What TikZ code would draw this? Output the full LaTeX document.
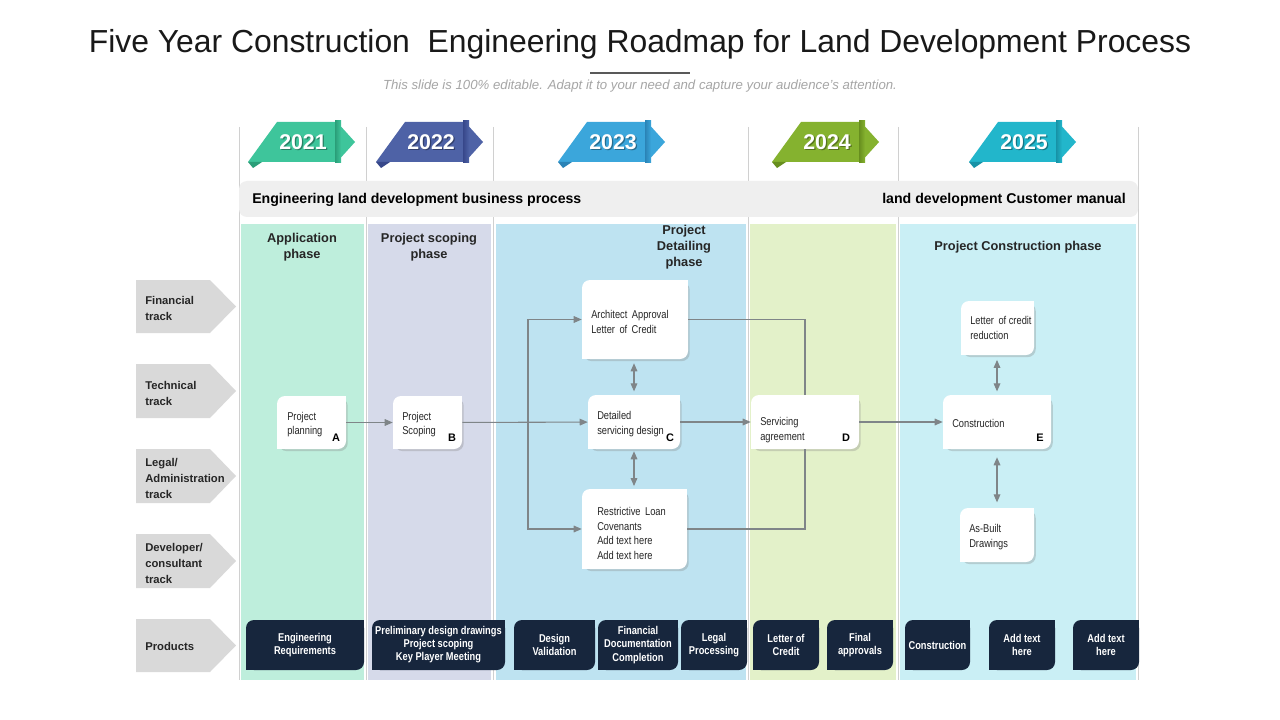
\documentclass[tikz,border=0pt]{standalone}
\usepackage{fontspec}
\setmainfont{Liberation Sans}
\newfontfamily\narrowfont[FakeStretch=0.82]{Liberation Sans}
\usetikzlibrary{arrows.meta,shadows,calc}
\pgfdeclarelayer{back}
\pgfdeclarelayer{mid}
\pgfsetlayers{back,mid,main}
\definecolor{txt}{HTML}{262626}
\definecolor{vl}{HTML}{D0D0D0}
\definecolor{hdrfill}{HTML}{EFEFEF}
\definecolor{colA}{HTML}{BEEEDC}
\definecolor{colB}{HTML}{D6DAEA}
\definecolor{colC}{HTML}{BEE3F1}
\definecolor{colD}{HTML}{E3F1C9}
\definecolor{colE}{HTML}{CAEFF5}
\definecolor{navy}{HTML}{17263D}
\definecolor{trk}{HTML}{D9D9D9}
\definecolor{agray}{HTML}{7F8588}
\definecolor{yA}{HTML}{3EC59B}\definecolor{yAd}{HTML}{2A9E78}
\definecolor{yB}{HTML}{4E62A6}\definecolor{yBd}{HTML}{37478A}
\definecolor{yC}{HTML}{3BA6DB}\definecolor{yCd}{HTML}{2A83B6}
\definecolor{yD}{HTML}{85B22F}\definecolor{yDd}{HTML}{678E1E}
\definecolor{yE}{HTML}{22B6CB}\definecolor{yEd}{HTML}{1792A6}
\newcommand\yearbanner[4]{%
  \fill[#2] (#1-26,122) -- (#1+33,122) -- (#1+33,162) -- (#1-55,162) -- cycle;
  \fill[#2] (#1+33,121) -- (#1+52,142) -- (#1+33,163) -- cycle;
  \shade[left color=#3, right color=#2] (#1+32,121) rectangle (#1+38,163);
  \fill[#3] (#1-55,162) -- (#1-41,162) -- (#1-50,168) -- cycle;
  \node[yrshadow] (ys#4) at (#1+1.3,143.3) {#4};
  \node[yrtxt] (yr#4) at (#1,142) {#4};
}
\newcommand\trackarrow[2]{% #1 top, #2 bottom
  \fill[trk] (136,#1) -- (210,#1) -- (236,{(#1+#2)/2}) -- (210,#2) -- (136,#2) -- cycle;
}
\begin{document}
\begin{tikzpicture}[x=0.75pt,y=-0.75pt,
  sz/.style 2 args={minimum width=#1*0.75pt, minimum height=#2*0.75pt},
  wbox/.style={fill=white, rounded corners=6pt, inner sep=0pt,
    drop shadow={shadow xshift=1.3pt, shadow yshift=-1.6pt, opacity=0.3}},
  btxt/.style={inner sep=0pt, align=left, text=txt, anchor=west,
    font=\narrowfont\fontsize{8.5}{10.8}\selectfont},
  lbl/.style={inner sep=0pt, text=black, font=\bfseries\fontsize{8.2}{9}\selectfont},
  prod/.style={fill=navy, rounded corners=6pt, inner sep=0pt, text=white, align=center,
    font=\narrowfont\bfseries\fontsize{8.5}{9.8}\selectfont},
  phase/.style={inner sep=0pt, align=center, text=txt, font=\bfseries\fontsize{9.6}{12}\selectfont},
  hdrtxt/.style={inner sep=0pt, text=black, font=\bfseries\fontsize{10.6}{12}\selectfont},
  trktxt/.style={inner sep=0pt, align=left, anchor=west, text=txt, font=\bfseries\fontsize{8.45}{12}\selectfont},
  yrtxt/.style={inner sep=0pt, text=white, font=\bfseries\fontsize{16}{18}\selectfont},
  yrshadow/.style={inner sep=0pt, text=black, opacity=0.35, font=\bfseries\fontsize{16}{18}\selectfont},
  conn/.style={draw=agray, line width=0.8pt},
  tip/.style={-{Triangle[length=6pt,width=5pt]}},
  dtip/.style={{Triangle[length=6pt,width=5pt]}-{Triangle[length=6pt,width=5pt]}},
]
\useasboundingbox (0,0) rectangle (1280,720);
\begin{pgfonlayer}{back}
\fill[white] (0,0) rectangle (1280,720);
% vertical lines
\foreach \x in {239,366,493,748,898,1138} \draw[vl, line width=0.7pt] (\x,127) -- (\x,680);
% column fills
\fill[colA] (241,224) rectangle (364,680);
\fill[colB] (368,224) rectangle (491,680);
\fill[colC] (496,224) rectangle (746,680);
\fill[colD] (750,224) rectangle (896,680);
\fill[colE] (900,224) rectangle (1136,680);
\end{pgfonlayer}

% title
\node[inner sep=0pt, text=black!90, font=\fontsize{23.9}{28}\selectfont] (title) at (640,44)
  {Five Year Construction \ Engineering Roadmap for Land Development Process};
\draw[black!65, line width=0.8pt] (590,73) -- (690,73);
\node[inner sep=0pt, text=black!35, font=\itshape\fontsize{9.9}{12}\selectfont] (subtitle) at (640,86.5)
  {This slide is 100\% editable. Adapt it to your need and capture your audience’s attention.};

% header bar
\node[fill=hdrfill, rounded corners=6pt, sz={899}{36}] (hdr) at (688.5,199) {};
\node[hdrtxt, anchor=west] (h1) at (252,199.5) {Engineering land development business process};
\node[hdrtxt, anchor=east] (h2) at (1126,199.5) {land development Customer manual};

% year banners
\yearbanner{303}{yA}{yAd}{2021}
\yearbanner{431}{yB}{yBd}{2022}
\yearbanner{613}{yC}{yCd}{2023}
\yearbanner{827}{yD}{yDd}{2024}
\yearbanner{1024}{yE}{yEd}{2025}

% track labels
\trackarrow{280}{333}
\trackarrow{364}{418}
\trackarrow{449}{503}
\trackarrow{534}{588}
\trackarrow{619}{672}
\node[trktxt] (t1t) at (145,308) {Financial\\track};
\node[trktxt] (t2t) at (145,393) {Technical\\track};
\node[trktxt] (t3t) at (145,478) {Legal/\\Administration\\track};
\node[trktxt] (t4t) at (145,563) {Developer/\\consultant\\track};
\node[trktxt] (t5t) at (145,646) {Products};

% phase titles
\node[phase] (p1) at (302,247) {Application\\phase};
\node[phase] (p2) at (429,247) {Project scoping\\phase};
\node[phase] (p3) at (684,247) {Project\\Detailing\\phase};
\node[phase] (p5) at (1018,247) {Project Construction phase};

% white boxes
\node[wbox, sz={69}{53}] (A) at (311.5,422.5) {};
\node[wbox, sz={69}{53}] (B) at (427.5,422.5) {};
\node[wbox, sz={106}{79}] (Arch) at (635,319.5) {};
\node[wbox, sz={92}{54}] (C) at (634,422) {};
\node[wbox, sz={105}{80}] (R) at (634.5,529) {};
\node[wbox, sz={108}{54}] (D) at (805,422) {};
\node[wbox, sz={73}{54}] (LC) at (997.5,328) {};
\node[wbox, sz={108}{54}] (E) at (997,422) {};
\node[wbox, sz={74}{54}] (AB) at (997,535) {};
\foreach \n in {A,B,Arch,C,R,D,LC,E,AB} {
  \fill[white] (\n.north east) rectangle ++(-9,9);
  \fill[white] (\n.south west) rectangle ++(9,-9);
}
\node[btxt] (At) at (287,424.5) {Project\\planning};
\node[btxt] (Bt) at (402,424.5) {Project\\Scoping};
\node[btxt] (Archt) at (591,322) {Architect\, Approval\\Letter\, of\, Credit};
\node[btxt] (Ct) at (597,424) {Detailed\\servicing design};
\node[btxt] (Rt) at (597,533.5) {Restrictive\, Loan\\Covenants\\Add text here\\Add text here};
\node[btxt] (Dt) at (760,430) {Servicing\\agreement};
\node[btxt] (LCt) at (970,328) {Letter\, of credit\\reduction};
\node[btxt] (Et) at (952,423) {Construction};
\node[btxt] (ABt) at (969,537) {As-Built\\Drawings};
\node[lbl] (Al) at (336,438) {A};
\node[lbl] (Bl) at (452,438) {B};
\node[lbl] (Cl) at (670,438) {C};
\node[lbl] (Dl) at (846,438) {D};
\node[lbl] (El) at (1040,438) {E};

% connectors
\coordinate (j) at (528,422);
\draw[conn,tip] (A) -- (B);
\draw[conn,tip] (B) -- (C);
\draw[conn,tip] (j) |- (Arch.west);
\draw[conn,tip] (j) |- (R.west);
\draw[conn] (Arch.east) -| (D.north);
\draw[conn] (R.east) -| (D.south);
\draw[conn,tip] (C) -- (D);
\draw[conn,tip] (D) -- (E);
\draw[conn,dtip,shorten <=3pt,shorten >=2.5pt] (C.north |- Arch.south) -- (C.north);
\draw[conn,dtip,shorten <=1.5pt,shorten >=2pt] (C.south) -- (C.south |- R.north);
\draw[conn,dtip,shorten <=3.5pt,shorten >=2.5pt] (E.north |- LC.south) -- (E.north);
\draw[conn,dtip,shorten <=6pt,shorten >=4pt] (E.south) -- (E.south |- AB.north);

% products
\node[prod, sz={118}{50}] (P1) at (305,645) {Engineering\\Requirements};
\node[prod, sz={133}{50}] (P2) at (438.5,645) {Preliminary design drawings\\Project scoping\\Key Player Meeting};
\node[prod, sz={81}{50}] (P3) at (554.5,645) {Design\\Validation};
\node[prod, sz={80}{50}] (P4) at (638,645) {Financial\\Documentation\\Completion};
\node[prod, sz={66}{50}] (P5) at (714,645) {Legal\\Processing};
\node[prod, sz={66}{50}] (P6) at (786,645) {Letter of\\Credit};
\node[prod, sz={66}{50}] (P7) at (860,645) {Final\\approvals};
\node[prod, sz={65}{50}] (P8) at (937.5,645) {Construction};
\node[prod, sz={66}{50}] (P9) at (1022,645) {Add text\\here};
\node[prod, sz={66}{50}] (P10) at (1106,645) {Add text\\here};
\begin{pgfonlayer}{mid}
\foreach \n in {P1,P2,P3,P4,P5,P6,P7,P8,P9,P10} {
  \fill[navy] (\n.north east) rectangle ++(-9,9);
  \fill[navy] (\n.south west) rectangle ++(9,-9);
}
\end{pgfonlayer}
\end{tikzpicture}
\end{document}
